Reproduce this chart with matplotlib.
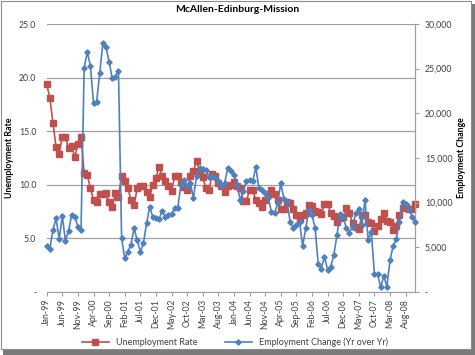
import numpy as np
import pandas as pd
import matplotlib
matplotlib.use("Agg")
import matplotlib.pyplot as plt
from matplotlib.patches import Rectangle

plt.rcParams['font.family'] = ['Lato', 'DejaVu Sans']

# monthly series Jan-99 .. Nov-08
months = pd.date_range("1999-01-01", periods=119, freq="MS")
month_labels = [d.strftime("%b-%y") for d in months]

unemployment = [
    19.4, 18.1, 15.8, 13.5, 12.9, 14.5, 14.5, 13.4, 13.6, 12.6, 13.8, 14.5,
    11.1, 10.9, 9.7, 8.6, 8.4, 9.1, 9.1, 9.2, 8.4, 7.9, 9.2, 8.9,
    10.8, 10.4, 9.7, 8.6, 8.1, 9.7, 9.9, 9.9, 9.3, 8.9, 10.0, 10.6,
    11.7, 10.8, 10.4, 9.9, 9.4, 10.8, 10.8, 10.3, 9.8, 9.5, 10.8, 11.3,
    12.2, 11.3, 10.7, 9.7, 9.5, 11.0, 10.8, 10.2, 9.9, 9.3, 9.9, 10.0,
    10.3, 9.9, 9.7, 8.5, 8.5, 9.5, 9.5, 8.6, 8.3, 7.9, 8.6, 9.1,
    9.5, 9.1, 8.6, 7.7, 7.7, 8.4, 8.3, 7.7, 7.2, 6.8, 7.2, 7.4,
    8.1, 8.0, 7.6, 7.5, 7.3, 8.2, 8.2, 7.4, 7.1, 6.5, 6.9, 7.0,
    7.8, 7.4, 6.4, 6.1, 5.9, 7.2, 7.2, 6.5, 6.4, 5.7, 6.2, 6.8,
    7.4, 6.6, 6.5, 5.8, 6.2, 7.2, 7.8, 7.9, 7.7, 7.7, 8.2,
]

employment_change = [
    5150, 4850, 6940, 8250, 5930, 8500, 5750, 6830, 8620, 8430, 7310, 6940,
    25100, 26850, 25330, 21120, 21250, 24570, 27880, 27370, 25790, 23900, 24110, 24750,
    6000, 3790, 4500, 5300, 7150, 5780, 4500, 5450, 7700, 9550, 8350, 8300,
    8200, 9080, 8370, 8640, 8700, 9380, 9430, 12020, 12580, 11900, 12250, 10500,
    12980, 13860, 13750, 13670, 12850, 12930, 12740, 12480, 11890, 12190, 13860, 13600,
    13110, 12000, 10330, 11260, 12480, 12560, 12370, 13970, 11630, 11440, 11100, 10500,
    9010, 8820, 9940, 12190, 10390, 10020, 7890, 7140, 7510, 7890, 5160, 7140,
    9200, 8640, 7140, 3100, 2620, 3960, 2470, 2840, 4150, 6390, 8700, 8400,
    7140, 6650, 7330, 8820, 9270, 7510, 10320, 5830, 6770, 2020, 2020, 520,
    1790, 600, 3590, 5160, 5910, 7890, 10130, 9870, 9270, 8450, 7890,
]

left_ticks = [0, 5, 10, 15, 20, 25]
left_labels = ["-", "5.0", "10.0", "15.0", "20.0", "25.0"]
right_ticks = [0, 5000, 10000, 15000, 20000, 25000, 30000]
right_labels = ["-", "5,000", "10,000", "15,000", "20,000", "25,000", "30,000"]

red = "#C0504D"
blue = "#4F81BD"
grid_col = "#A0A0A0"
txt_col = "#404040"

fig = plt.figure(figsize=(4.75, 3.55), dpi=100)

# chart frame with shadow
fig.patches.append(Rectangle((3 / 475, 0), 472 / 475, 1 - 4 / 355, transform=fig.transFigure,
                             facecolor="#7A7A7A", edgecolor="none", zorder=-3))
fig.patches.append(Rectangle((0.5 / 475, 6 / 355), 470.5 / 475, 1 - 6.5 / 355, transform=fig.transFigure,
                             facecolor="white", edgecolor="#8C8C8C", linewidth=0.8, zorder=-2))

ax = fig.add_axes([46.7 / 475, 1 - 292 / 355, (415 - 46.7) / 475, (292 - 24) / 355])
ax2 = ax.twinx()
ax.patch.set_visible(False)
ax2.patch.set_visible(False)

x = np.arange(len(months))

ax.plot(x, unemployment, color=red, linewidth=1.2, marker="s", markersize=4.0,
        label="Unemployment Rate", clip_on=False, zorder=3)
ax2.plot(x, employment_change, color=blue, linewidth=1.2, marker="D", markersize=2.7,
         label="Employment Change (Yr over Yr)", clip_on=False, zorder=3)

ax.set_xlim(0, len(months) - 1)
ax.set_ylim(0, 25)
ax2.set_ylim(0, 30000)

ax.set_yticks(left_ticks)
ax.set_yticklabels(left_labels, fontsize=6.3, color=txt_col)
ax2.set_yticks(right_ticks)
ax2.set_yticklabels(right_labels, fontsize=6.3, color=txt_col)

ax.set_xticks(x[::5])
ax.set_xticklabels(month_labels[::5], rotation=90, fontsize=6.3, color=txt_col)

ax.yaxis.grid(True, color=grid_col, linewidth=0.9)
ax.set_axisbelow(True)

for a in (ax, ax2):
    for s in ("top", "left"):
        a.spines[s].set_visible(False)
    a.spines["bottom"].set_color(grid_col)
    a.spines["right"].set_color(grid_col)
ax2.spines["bottom"].set_visible(False)

ax.tick_params(axis="y", length=0, pad=7.5)
ax.tick_params(axis="x", length=3, color=grid_col, pad=2)
ax2.tick_params(axis="y", length=3, color=grid_col, pad=4)

# axis titles placed directly so they stay inside the frame
fig.text(10 / 475, 1 - 158 / 355, "Unemployment Rate", rotation=90, ha="center", va="center",
         fontsize=6.3, fontweight="bold")
fig.text(461 / 475, 1 - 158 / 355, "Employment Change", rotation=90, ha="center", va="center",
         fontsize=6.3, fontweight="bold")

fig.text(237 / 475, 1 - 9 / 355, "McAllen-Edinburg-Mission", ha="center", va="center",
         fontsize=7.5, fontweight="bold")

h1, l1 = ax.get_legend_handles_labels()
h2, l2 = ax2.get_legend_handles_labels()
fig.legend(h1 + h2, l1 + l2, loc="center", bbox_to_anchor=(235 / 475, 1 - 342 / 355),
           ncol=2, frameon=False, fontsize=6.5, handlelength=3, columnspacing=3,
           labelcolor=txt_col)

fig.savefig("out.png", dpi=100)
